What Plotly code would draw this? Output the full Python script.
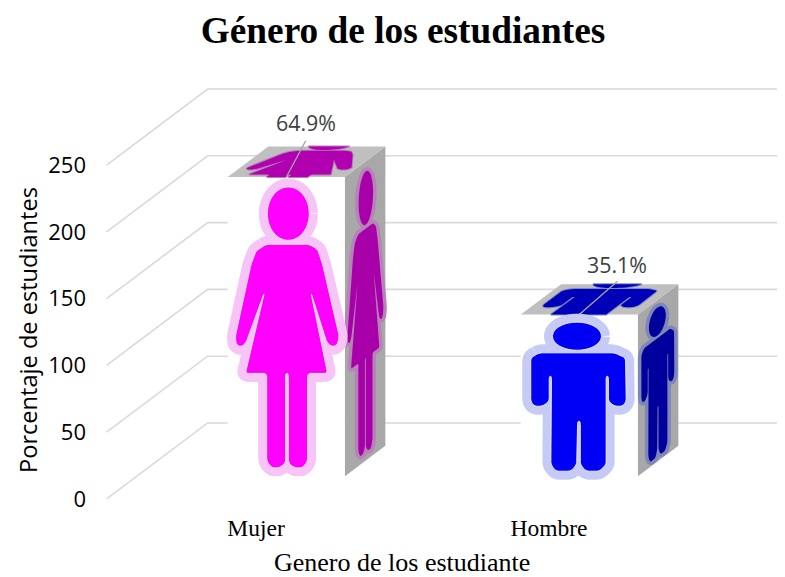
import numpy as np
import plotly.graph_objects as go

# --- data ---
categories = ["Mujer", "Hombre"]
values = [224, 121]
percent_labels = ["64.9%", "35.1%"]
y_ticks = [0, 50, 100, 150, 200, 250]
y_tick_labels = ["0", "50", "100", "150", "200", "250"]
title_text = "Género de los estudiantes"
x_title = "Genero de los estudiante"
y_title = "Porcentaje de estudiantes"

# --- oblique projection of the 3D chart, in axis units ---
DEPTH_X = 0.345       # category units for full floor depth
DEPTH_Y = 56.9        # value units for full floor depth
BAR_WIDTH = 0.40
BAR_D0, BAR_D1 = 0.30, 0.70
X_LEFT, X_RIGHT = -0.51, 1.86
TOP_V_FRONT, TOP_V_BACK = 0.30, 0.85   # portion of the icon shown on the top face

def proj(x, v, d):
    return x + d * DEPTH_X, v + d * DEPTH_Y

# --- icon silhouettes, in their own drawing units ---
def fillet(pts, r):
    pts = [np.array(p, float) for p in pts]
    n = len(pts)
    out = []
    for i in range(n):
        a, b, c = pts[i - 1], pts[i], pts[(i + 1) % n]
        la, lc = np.linalg.norm(a - b), np.linalg.norm(c - b)
        p0 = b + (a - b) / la * min(r, la / 2)
        p1 = b + (c - b) / lc * min(r, lc / 2)
        for t in np.linspace(0, 1, 6):
            out.append((1 - t) ** 2 * p0 + 2 * t * (1 - t) * b + t ** 2 * p1)
    return np.array(out)

def ellipse(cx, cy, rx, ry):
    t = np.linspace(0, 2 * np.pi, 60)
    return np.column_stack([cx + rx * np.cos(t), cy + ry * np.sin(t)])

woman_body = [(195,430),(325,430),(350,445),(365,490),(415,705),(410,730),(395,738),(378,725),
              (330,575),(380,817),(320,817),(320,1080),(305,1100),(280,1100),(262,1085),(262,817),
              (254,817),(254,1085),(235,1100),(212,1100),(197,1080),(197,817),(133,817),(190,575),
              (135,725),(120,738),(105,730),(103,705),(150,490),(165,450)]
man_body = [(120,335),(345,335),(378,350),(380,480),(370,495),(345,495),(327,480),(327,405),
            (320,405),(320,670),(300,690),(260,690),(243,670),(243,540),(235,540),(232,670),
            (215,690),(170,690),(155,670),(157,405),(150,405),(150,480),(130,495),(105,495),
            (95,480),(95,350)]

def icon_parts(body, head, box):
    x0, x1, y0, y1 = box
    parts = [fillet(body, 10), ellipse(*head)]
    return [np.column_stack([(p[:, 0] - x0) / (x1 - x0), (y1 - p[:, 1]) / (y1 - y0)]) for p in parts]

icons = [
    icon_parts(woman_body, (262, 338, 63, 80), (80, 432, 228, 1125)),
    icon_parts(man_body, (233, 285, 73, 42), (65, 415, 220, 705)),
]
styles = [
    dict(front="#ff00ff", halo="#f7c4f7", side="#a800a8", side_halo="#b583b5", top="#b000b0", top_halo="#b57fb5"),
    dict(front="#0000f5", halo="#c6cbf5", side="#00009c", side_halo="#7f86b8", top="#0000b8", top_halo="#7f8ac0"),
]

fig = go.Figure()

def poly(xs, ys, fill=None, line=None, width=0, closed=True):
    xs, ys = list(xs), list(ys)
    if closed:
        xs.append(xs[0]); ys.append(ys[0])
    fig.add_trace(go.Scatter(
        x=xs, y=ys, mode="lines", hoverinfo="skip", showlegend=False,
        fill="toself" if fill else "none", fillcolor=fill,
        line=dict(color=line or "rgba(0,0,0,0)", width=width, simplify=False),
    ))

# gridlines: front-left up to the back wall and then across
for v in y_ticks:
    p0 = proj(X_LEFT, v, 0)
    p1 = proj(X_LEFT, v, 1)
    p2 = proj(X_RIGHT, v, 1)
    poly([p0[0], p1[0], p2[0]], [p0[1], p1[1], p2[1]], line="#d9d9d9", width=1.6, closed=False)

# bars with their pictures
for i, val in enumerate(values):
    x0, x1 = i - BAR_WIDTH / 2, i + BAR_WIDTH / 2
    st = styles[i]

    # faces
    q = [proj(x0, 0, BAR_D0), proj(x1, 0, BAR_D0), proj(x1, val, BAR_D0), proj(x0, val, BAR_D0)]
    poly([a for a, _ in q], [b for _, b in q], fill="#ffffff")
    q = [proj(x1, 0, BAR_D0), proj(x1, 0, BAR_D1), proj(x1, val, BAR_D1), proj(x1, val, BAR_D0)]
    poly([a for a, _ in q], [b for _, b in q], fill="#a8a8a8")
    q = [proj(x0, val, BAR_D0), proj(x1, val, BAR_D0), proj(x1, val, BAR_D1), proj(x0, val, BAR_D1)]
    poly([a for a, _ in q], [b for _, b in q], fill="#bfbfbf")

    top = []
    for part in icons[i]:
        u, w = part[:, 0], part[:, 1]
        tw = (np.clip(w, TOP_V_FRONT, TOP_V_BACK) - TOP_V_FRONT) / (TOP_V_BACK - TOP_V_FRONT)
        d = BAR_D0 + tw * (BAR_D1 - BAR_D0)
        top.append(proj(x0 + u * BAR_WIDTH, val, d))
    for tx, ty in top:
        poly(tx, ty, fill=st["top_halo"], line=st["top_halo"], width=2)
    for tx, ty in top:
        poly(tx, ty, fill=st["top"])

    side = []
    for part in icons[i]:
        u, w = part[:, 0], part[:, 1]
        d = BAR_D0 + u * (BAR_D1 - BAR_D0)
        side.append(proj(x1, w * val, d))
    for sx, sy in side:
        poly(sx, sy, fill=st["side_halo"], line=st["side_halo"], width=7)
    for sx, sy in side:
        poly(sx, sy, fill=st["side"])

    front = [proj(x0 + p[:, 0] * BAR_WIDTH, p[:, 1] * val, BAR_D0) for p in icons[i]]
    for fx, fy in front:
        poly(fx, fy, fill=st["halo"], line=st["halo"], width=17)
    for fx, fy in front:
        poly(fx, fy, fill=st["front"], line="#ffffff", width=0.8)

# data labels with leader lines
label_shift = [(0.066, 41), (0.130, 37.5)]
leader_shift = [(0.066, 27), (0.130, 25)]
annotations = []
for i, val in enumerate(values):
    ax, ay = proj(i, val, BAR_D0)
    lx, ly = leader_shift[i]
    poly([ax, ax + lx], [ay, ay + ly], line="#a6a6a6", width=1.3, closed=False)
    sx, sy = label_shift[i]
    annotations.append(dict(x=ax + sx, y=ay + sy, xref="x", yref="y", text=percent_labels[i],
                            showarrow=False, font=dict(family="Open Sans", size=21.4, color="#404040")))

FIG_W, FIG_H = 777, 569
M_L, M_T, M_B = 79, 73, 66
PLOT_W, PLOT_H = FIG_W - M_L, FIG_H - M_T - M_B

def paper_x(px):
    return (px - M_L) / PLOT_W

def paper_y(py):
    return 1 - (py - M_T) / PLOT_H

annotations.append(dict(x=paper_x(394), y=paper_y(554), xref="paper", yref="paper", text=x_title, showarrow=False,
                        xanchor="center", yanchor="middle",
                        font=dict(family="Liberation Serif", size=26, color="#000000")))
annotations.append(dict(x=paper_x(20), y=paper_y(322), xref="paper", yref="paper", text=y_title, showarrow=False,
                        textangle=-90, xanchor="center", yanchor="middle",
                        font=dict(family="Open Sans", size=23.6, color="#000000")))

fig.update_layout(
    width=FIG_W, height=FIG_H, autosize=False,
    margin=dict(l=M_L, r=0, t=M_T, b=M_B),
    paper_bgcolor="#ffffff", plot_bgcolor="#ffffff", showlegend=False,
    title=dict(text=title_text, x=395 / FIG_W, xanchor="center", y=1 - 22 / FIG_H, yanchor="middle",
               font=dict(family="Liberation Serif", size=37.3, color="#000000", weight="bold")),
    annotations=annotations,
    xaxis=dict(range=[(87 - 256) / 293, (785 - 256) / 293], tickmode="array", tickvals=[0, 1],
               ticktext=categories, showgrid=False, zeroline=False, showline=False,
               tickfont=dict(family="Liberation Serif", size=23.5, color="#000000")),
    yaxis=dict(range=[-9, 312.9], tickmode="array", tickvals=y_ticks, ticktext=y_tick_labels,
               showgrid=False, zeroline=False, showline=False,
               tickfont=dict(family="Open Sans", size=22, color="#000000")),
)

fig.write_html("out.html")
